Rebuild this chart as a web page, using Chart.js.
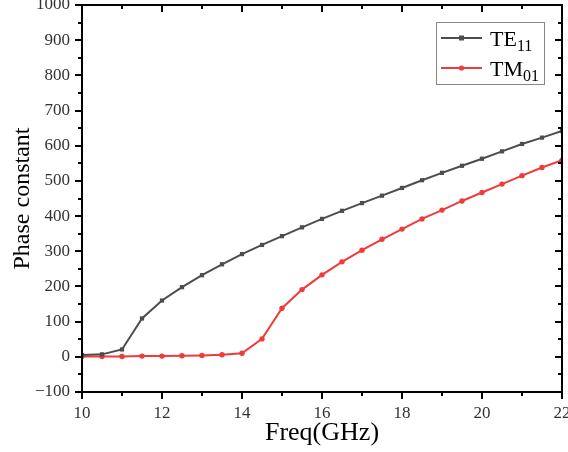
<!DOCTYPE html>
<html>
<head>
<meta charset="utf-8">
<script src="https://cdn.jsdelivr.net/npm/chart.js@4.4.1/dist/chart.umd.min.js"></script>
<style>
  html, body { margin: 0; padding: 0; background: #fff; }
  #wrap { width: 568px; height: 452px; position: relative; }
</style>
</head>
<body>
<div id="wrap"><canvas id="c"></canvas></div>
<script>
const freq = [10, 10.5, 11, 11.5, 12, 12.5, 13, 13.5, 14, 14.5, 15, 15.5, 16, 16.5, 17, 17.5, 18, 18.5, 19, 19.5, 20, 20.5, 21, 21.5, 22];
const te11 = [5, 7, 21, 109, 160, 198, 232, 263, 292, 318, 343, 368, 392, 415, 437, 458, 480, 502, 523, 543, 563, 584, 605, 623, 642];
const tm01 = [1, 1, 1, 2, 2, 3, 4, 6, 10, 51, 138, 191, 233, 270, 303, 334, 363, 392, 417, 443, 467, 491, 515, 538, 559];
const seriesNames = [["TE", "11"], ["TM", "01"]];
const xTitle = "Freq(GHz)";
const yTitle = "Phase constant";

const GREY = "#4d4d4d";
const RED = "#ee3b3b";
const FONT = "'Liberation Serif', 'DejaVu Serif', serif";

const pts = (ys) => freq.map((f, i) => ({ x: f, y: ys[i] }));

// frame + inward/outward tick marks, minor ones too
const frameTicks = {
  id: "frameTicks",
  afterDraw(chart) {
    const { ctx, chartArea: a, scales } = chart;
    const xs = scales.x, ys = scales.y;
    ctx.save();
    ctx.strokeStyle = "#000";
    ctx.lineWidth = 2;
    ctx.strokeRect(a.left, a.top, a.right - a.left, a.bottom - a.top);
    ctx.beginPath();
    for (let v = -100; v <= 1000; v += 50) {
      const y = Math.round(ys.getPixelForValue(v));
      const len = v % 100 === 0 ? 7 : 4;
      ctx.moveTo(a.left - len, y); ctx.lineTo(a.left, y);
      ctx.moveTo(a.right, y); ctx.lineTo(a.right - len, y);
    }
    for (let v = 10; v <= 22; v += 1) {
      const x = Math.round(xs.getPixelForValue(v));
      const len = v % 2 === 0 ? 7 : 4;
      ctx.moveTo(x, a.bottom); ctx.lineTo(x, a.bottom + len);
      ctx.moveTo(x, a.top); ctx.lineTo(x, a.top + len);
    }
    ctx.stroke();

    // legend with subscripts
    const bx = 436, by = 22, bw = 108, bh = 62;
    ctx.lineWidth = 1;
    ctx.strokeStyle = "#888";
    ctx.strokeRect(bx + 0.5, by + 0.5, bw, bh);
    chart.data.datasets.forEach((ds, i) => {
      const y = by + 16 + i * 30;
      ctx.strokeStyle = ds.borderColor;
      ctx.lineWidth = 2;
      ctx.beginPath();
      ctx.moveTo(bx + 5, y); ctx.lineTo(bx + 46, y);
      ctx.stroke();
      ctx.fillStyle = ds.borderColor;
      if (ds.pointStyle === "rect") ctx.fillRect(bx + 23, y - 2.5, 5, 5);
      else { ctx.beginPath(); ctx.arc(bx + 25.5, y, 2.6, 0, Math.PI * 2); ctx.fill(); }
      ctx.fillStyle = "#000";
      ctx.textBaseline = "alphabetic";
      ctx.font = "22px " + FONT;
      const [main, sub] = seriesNames[i];
      ctx.fillText(main, bx + 54, y + 8);
      const w = ctx.measureText(main).width;
      ctx.font = "16px " + FONT;
      ctx.fillText(sub, bx + 54 + w, y + 13);
    });
    ctx.restore();
  },
};

new Chart(document.getElementById("c"), {
  type: "line",
  data: {
    datasets: [
      {
        label: "TE11",
        data: pts(te11),
        borderColor: GREY,
        backgroundColor: GREY,
        borderWidth: 2,
        pointStyle: "rect",
        pointRadius: 3,
        pointBorderWidth: 0,
        tension: 0,
      },
      {
        label: "TM01",
        data: pts(tm01),
        borderColor: RED,
        backgroundColor: RED,
        borderWidth: 2,
        pointStyle: "circle",
        pointRadius: 2.7,
        pointBorderWidth: 0,
        tension: 0,
      },
    ],
  },
  options: {
    responsive: true,
    maintainAspectRatio: false,
    animation: false,
    layout: { padding: { top: 5, right: 6, left: 0, bottom: 0 } },
    plugins: { legend: { display: false }, tooltip: { enabled: false } },
    scales: {
      x: {
        type: "linear",
        min: 10,
        max: 22,
        ticks: { stepSize: 2, color: "#333", font: { family: FONT, size: 17 }, padding: 3 },
        grid: { display: false },
        border: { display: false },
        title: { display: true, text: xTitle, color: "#000", font: { family: FONT, size: 26 }, padding: { top: 0, bottom: 3 } },
        afterFit: (s) => { s.height = 60; s.paddingLeft = 0; s.paddingRight = 0; },
      },
      y: {
        min: -100,
        max: 1000,
        ticks: {
          stepSize: 100, color: "#333", font: { family: FONT, size: 17 }, padding: 4,
          callback: (v) => (v < 0 ? "\u2212" + Math.abs(v) : String(v)),
        },
        grid: { display: false },
        border: { display: false },
        title: { display: true, text: yTitle, color: "#000", font: { family: FONT, size: 24 }, padding: { top: 8, bottom: 0 } },
        afterFit: (s) => { s.width = 82; s.paddingTop = 0; s.paddingBottom = 0; },
      },
    },
  },
  plugins: [frameTicks],
});
</script>
</body>
</html>
